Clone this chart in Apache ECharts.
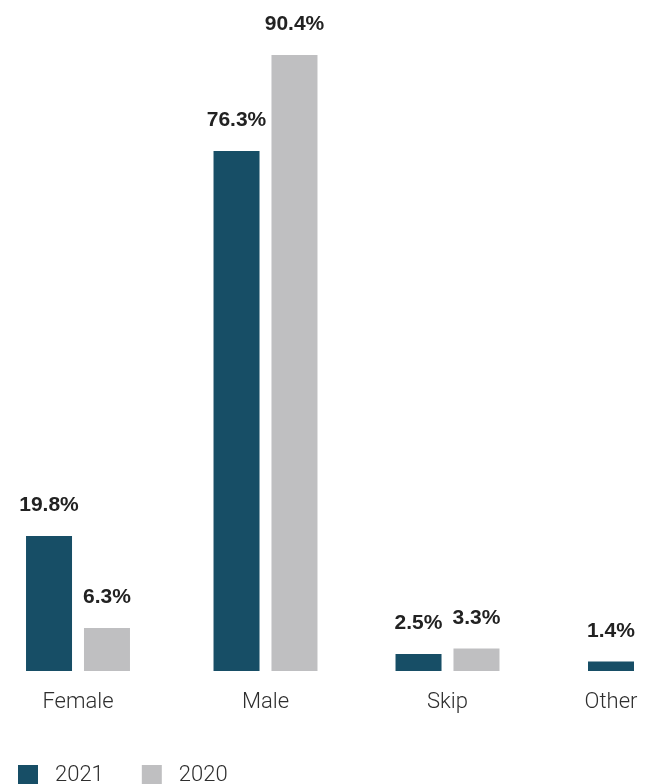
<!DOCTYPE html>
<html>
<head>
<meta charset="utf-8">
<script src="https://cdn.jsdelivr.net/npm/echarts@6/dist/echarts.min.js"></script>
<style>
html,body{margin:0;padding:0;background:#fff;}
#chart{width:645px;height:784px;}
</style>
</head>
<body>
<div id="chart"></div>
<script>
const categories = ['Female', 'Male', 'Skip', 'Other'];
const seriesNames = ['2021', '2020'];
const values2021 = [19.8, 76.3, 2.5, 1.4];
const values2020 = [6.3, 90.4, 3.3, null];

// layout (not data): horizontal centre of each group in px
const groupCenters = [78, 265.5, 447.5, 611];
const groupWidth = 60;
const colors = { '2021': '#174E66', '2020': '#BFBFC1' };

const allVals = values2021.concat(values2020).filter(v => v != null);
const yMax = Math.max.apply(null, allVals);

const grids = [], xAxes = [], yAxes = [], series = [];
categories.forEach((cat, i) => {
  grids.push({ left: groupCenters[i] - groupWidth / 2, width: groupWidth, top: 55, bottom: 113, containLabel: false });
  xAxes.push({
    type: 'category', gridIndex: i, data: [cat],
    axisLine: { show: false }, axisTick: { show: false },
    axisLabel: { margin: 20, fontSize: 22, color: '#2e2e2e', fontFamily: 'Roboto', fontWeight: 300, overflow: 'none' }
  });
  yAxes.push({ type: 'value', gridIndex: i, min: 0, max: yMax, show: false, splitLine: { show: false } });
  [[seriesNames[0], values2021], [seriesNames[1], values2020]].forEach(([name, arr]) => {
    if (arr[i] == null) return;
    series.push({
      type: 'bar', name: name, xAxisIndex: i, yAxisIndex: i,
      data: [arr[i]], barWidth: 46, barGap: '26%', clip: false,
      itemStyle: { color: colors[name] },
      label: {
        show: true, position: 'top', distance: 20,
        formatter: p => p.value + '%',
        fontSize: 21, fontWeight: 'bold', color: '#222', fontFamily: 'Liberation Sans'
      }
    });
  });
});

const chart = echarts.init(document.getElementById('chart'));
chart.setOption({
  animation: false,
  grid: grids, xAxis: xAxes, yAxis: yAxes, series: series,
  legend: {
    data: seriesNames, left: 18, top: 764, padding: 0, itemWidth: 20, itemHeight: 20, itemGap: 38,
    icon: 'rect',
    textStyle: { fontSize: 22, color: '#2e2e2e', fontFamily: 'Roboto', fontWeight: 300, padding: [0, 0, 0, 12] }
  }
});
</script>
</body>
</html>
